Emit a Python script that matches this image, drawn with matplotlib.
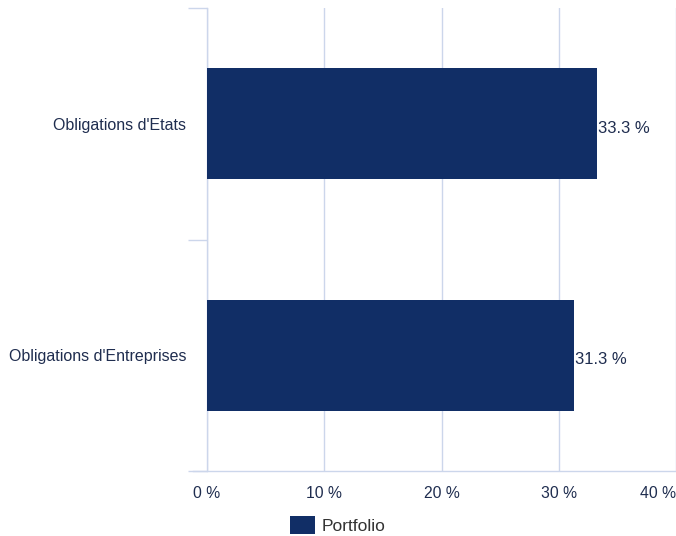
import matplotlib.pyplot as plt
from matplotlib.lines import Line2D

categories = ["Obligations d'Etats", "Obligations d'Entreprises"]
values = [33.3, 31.3]
series_name = "Portfolio"
ticks = [0, 10, 20, 30, 40]

bar_color = "#112e66"
grid_color = "#ccd6eb"
text_color = "#1f2d4f"

plt.rcParams["font.family"] = ["Liberation Sans", "DejaVu Sans"]

fig = plt.figure(figsize=(6.76, 5.36), dpi=100)
ax = fig.add_axes([207 / 676, 1 - 471 / 536, 469 / 676, 463 / 536])

pos = list(range(len(categories)))
bars = ax.barh(pos, values, height=0.48, color=bar_color, label=series_name, zorder=3)

ax.set_xlim(0, 40)
ax.set_ylim(len(categories) - 0.5, -0.5)

ax.set_xticks(ticks)
ax.set_xticklabels([f"{t} %" for t in ticks])
ax.tick_params(axis="x", length=0, pad=11, labelsize=11.3, labelcolor=text_color)
labels = ax.get_xticklabels()
labels[-1].set_ha("right")

ax.set_yticks([p - 0.5 for p in pos] + [len(categories) - 0.5])
ax.set_yticklabels([])
ax.set_yticks(pos, minor=True)
ax.set_yticklabels(categories, minor=True)
ax.tick_params(axis="y", which="major", length=14, width=1, color=grid_color)
ax.tick_params(axis="y", which="minor", length=0, pad=15, labelsize=11.5, labelcolor=text_color)

ax.grid(axis="x", color=grid_color, linewidth=1, zorder=0)
for s in ["top", "right", "bottom"]:
    ax.spines[s].set_visible(False)
ax.spines["left"].set_color(grid_color)
ax.spines["left"].set_linewidth(1)

# bottom axis line reaching out to the left like the tick marks
ax.add_line(Line2D([-14 / 469, 1], [0, 0], transform=ax.transAxes,
                   color=grid_color, linewidth=1, clip_on=False, zorder=4))

for b, v in zip(bars, values):
    ax.text(v + 0.05, b.get_y() + b.get_height() / 2 + 0.02, f"{v} %",
            va="center", ha="left", fontsize=12, color=text_color, zorder=5)

fig.legend(handles=[bars], labels=[series_name], loc="center",
           bbox_to_anchor=(338 / 676, 1 - 525 / 536), frameon=False,
           handlelength=1.4, handleheight=1.3, handletextpad=0.4,
           fontsize=12.5, labelcolor="#333333")

fig.savefig("out.png", dpi=100)
